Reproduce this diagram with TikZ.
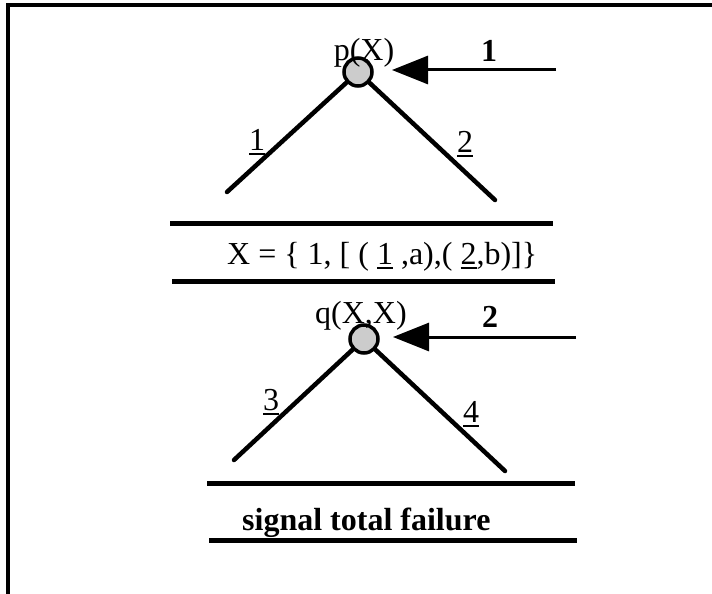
\documentclass[tikz,border=0pt]{standalone}
\usepackage{fontspec}
\setmainfont{Liberation Serif}
\usetikzlibrary{arrows.meta,patterns}
\newcommand{\uln}[1]{{\setbox0\hbox{#1}\rlap{\vrule height -2.5pt depth 5pt width \wd0}\box0}}
\begin{document}
\begin{tikzpicture}[x=1pt,y=-1pt,
  txt/.style={inner sep=0pt,font=\fontsize{32}{38}\selectfont},
  btxt/.style={inner sep=0pt,font=\fontsize{32}{38}\selectfont\bfseries},
  goal/.style={circle,draw,line width=3.5pt,minimum size=28pt,inner sep=0pt,fill=gray!40},
  branch/.style={line width=4.5pt,line cap=round},
  bar/.style={line width=5pt},
  callarrow/.style={line width=3pt,-{Triangle[length=36pt,width=28pt]}},
  frame/.style={line width=4pt}]
\useasboundingbox (0,0) rectangle (712,594);
% frame (top and left edges)
\coordinate (f1) at (8,600);
\coordinate (f2) at (8,5);
\coordinate (f3) at (720,5);
\draw[frame] (f1) -- (f2) -- (f3);
% first goal
\node[goal] (p) at (358,72) {};
\node[txt,anchor=base] (plab) at (364,60) {p(X)};
\coordinate (pl) at (227,192);
\coordinate (pr) at (495,200);
\draw[branch] (p) -- (pl);
\draw[branch] (p) -- (pr);
\node[txt,anchor=base] (b1) at (257,150) {\uln{1}};
\node[txt,anchor=base] (b2) at (465,152) {\uln{2}};
\coordinate (a1s) at (556,70);
\coordinate (a1e) at (392,70);
\draw[callarrow] (a1s) -- (a1e);
\node[btxt,anchor=base] (n1) at (489,62) {1};
% bars and binding
\coordinate (h1a) at (170,223);
\coordinate (h1b) at (553,223);
\draw[bar] (h1a) -- (h1b);
\node[txt,anchor=base west] (bind) at (227,264) {X = \{ 1, [ ( \uln{1} ,a),( \uln{2},b)]\}};
\coordinate (h2a) at (172,281);
\coordinate (h2b) at (555,281);
\draw[bar] (h2a) -- (h2b);
% second goal
\node[goal] (q) at (364,339) {};
\node[txt,anchor=base] (qlab) at (361,323) {q(X,X)};
\coordinate (ql) at (234,460);
\coordinate (qr) at (505,471);
\draw[branch] (q) -- (ql);
\draw[branch] (q) -- (qr);
\node[txt,anchor=base] (b3) at (271,410) {\uln{3}};
\node[txt,anchor=base] (b4) at (471,422) {\uln{4}};
\coordinate (a2s) at (576,337);
\coordinate (a2e) at (393,337);
\draw[callarrow] (a2s) -- (a2e);
\node[btxt,anchor=base] (n2) at (490,327) {2};
% bottom bars
\coordinate (h3a) at (207,483);
\coordinate (h3b) at (575,483);
\draw[bar] (h3a) -- (h3b);
\node[btxt,anchor=base west] (fail) at (242,530) {signal total failure};
\coordinate (h4a) at (209,540);
\coordinate (h4b) at (577,540);
\draw[bar] (h4a) -- (h4b);
\end{tikzpicture}
\end{document}
